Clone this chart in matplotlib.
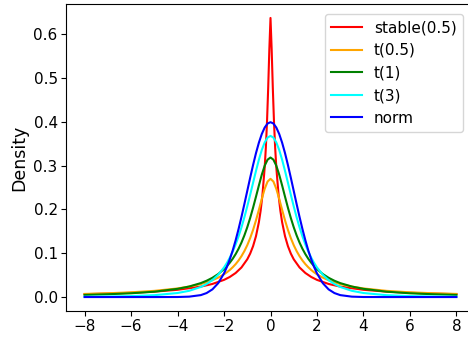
import matplotlib
matplotlib.use("Agg")
import matplotlib.pyplot as plt

# values
x_stable = [-8, -7, -6, -5, -4, -3, -2.5, -2, -1.75, -1.5, -1.25, -1, -0.875, -0.75,
            -0.625, -0.5, -0.425, -0.35, -0.25, -0.2, -0.15, -0.1, -0.05, 0,
            0.05, 0.1, 0.15, 0.2, 0.25, 0.35, 0.425, 0.5, 0.625, 0.75, 0.875, 1,
            1.25, 1.5, 1.75, 2, 2.5, 3, 4, 5, 6, 7, 8]
stable = [0.0066, 0.0079, 0.0097, 0.01235, 0.0165, 0.0238, 0.02985, 0.03915, 0.04587,
          0.05487, 0.06747, 0.08611, 0.09914, 0.11607, 0.13881, 0.17076, 0.19683,
          0.23082, 0.29564, 0.34112, 0.39987, 0.47621, 0.565, 0.63662,
          0.565, 0.47621, 0.39987, 0.34112, 0.29564, 0.23082, 0.19683, 0.17076,
          0.13881, 0.11607, 0.09914, 0.08611, 0.06747, 0.05487, 0.04587, 0.03915,
          0.02985, 0.0238, 0.0165, 0.01235, 0.0097, 0.0079, 0.0066]

x = [-8, -7, -6, -5, -4, -3.5, -3, -2.75, -2.5, -2.25, -2, -1.875, -1.75, -1.625,
     -1.5, -1.375, -1.25, -1.125, -1, -0.875, -0.75, -0.625, -0.5, -0.375, -0.25,
     -0.125, 0, 0.125, 0.25, 0.375, 0.5, 0.625, 0.75, 0.875, 1, 1.125, 1.25, 1.375,
     1.5, 1.625, 1.75, 1.875, 2, 2.25, 2.5, 2.75, 3, 3.5, 4, 5, 6, 7, 8]
t05 = [0.0071, 0.0086, 0.0108, 0.0141, 0.0196, 0.0238, 0.0296, 0.0335, 0.0383, 0.0443,
       0.0519, 0.0565, 0.0618, 0.0680, 0.0751, 0.0834, 0.0932, 0.1047, 0.1183,
       0.1344, 0.1532, 0.1749, 0.1990, 0.2239, 0.2469, 0.2635, 0.2697,
       0.2635, 0.2469, 0.2239, 0.1990, 0.1749, 0.1532, 0.1344, 0.1183, 0.1047,
       0.0932, 0.0834, 0.0751, 0.0680, 0.0618, 0.0565, 0.0519, 0.0443, 0.0383,
       0.0335, 0.0296, 0.0238, 0.0196, 0.0141, 0.0108, 0.0086, 0.0071]
t1 = [0.0049, 0.0064, 0.0086, 0.0122, 0.0187, 0.0240, 0.0318, 0.0372, 0.0439, 0.0525,
      0.0637, 0.0705, 0.0784, 0.0874, 0.0979, 0.1101, 0.1242, 0.1405, 0.1592,
      0.1803, 0.2037, 0.2289, 0.2546, 0.2791, 0.2996, 0.3134, 0.3183,
      0.3134, 0.2996, 0.2791, 0.2546, 0.2289, 0.2037, 0.1803, 0.1592, 0.1405,
      0.1242, 0.1101, 0.0979, 0.0874, 0.0784, 0.0705, 0.0637, 0.0525, 0.0439,
      0.0372, 0.0318, 0.0240, 0.0187, 0.0122, 0.0086, 0.0064, 0.0049]
t3 = [0.0007, 0.0012, 0.0022, 0.0042, 0.0092, 0.0142, 0.0230, 0.0297, 0.0387, 0.0509,
      0.0675, 0.0779, 0.0900, 0.1040, 0.1200, 0.1383, 0.1589, 0.1818, 0.2068,
      0.2333, 0.2607, 0.2877, 0.3132, 0.3354, 0.3527, 0.3638, 0.3676,
      0.3638, 0.3527, 0.3354, 0.3132, 0.2877, 0.2607, 0.2333, 0.2068, 0.1818,
      0.1589, 0.1383, 0.1200, 0.1040, 0.0900, 0.0779, 0.0675, 0.0509, 0.0387,
      0.0297, 0.0230, 0.0142, 0.0092, 0.0042, 0.0022, 0.0012, 0.0007]
norm = [0.0, 0.0, 0.0, 0.0, 0.0001, 0.0009, 0.0044, 0.0091, 0.0175, 0.0317,
        0.0540, 0.0688, 0.0863, 0.1065, 0.1295, 0.1550, 0.1826, 0.2119, 0.2420,
        0.2721, 0.3011, 0.3282, 0.3521, 0.3719, 0.3867, 0.3958, 0.3989,
        0.3958, 0.3867, 0.3719, 0.3521, 0.3282, 0.3011, 0.2721, 0.2420, 0.2119,
        0.1826, 0.1550, 0.1295, 0.1065, 0.0863, 0.0688, 0.0540, 0.0317, 0.0175,
        0.0091, 0.0044, 0.0009, 0.0001, 0.0, 0.0, 0.0, 0.0]

fig = plt.figure(figsize=(4.68, 3.37), dpi=100)
ax = fig.add_axes([66/468, 26/337, 409/468, 307/337])

ax.plot(x_stable, stable, color="red", label="stable(0.5)")
ax.plot(x, t05, color="orange", label="t(0.5)")
ax.plot(x, t1, color="green", label="t(1)")
ax.plot(x, t3, color="cyan", label="t(3)")
ax.plot(x, norm, color="blue", label="norm")

ax.set_xticks([-8, -6, -4, -2, 0, 2, 4, 6, 8])
ax.set_yticks([0.0, 0.1, 0.2, 0.3, 0.4, 0.5, 0.6])
ax.tick_params(labelsize=11, pad=2.5)
ax.set_ylabel("Density", fontsize=12.5)
ax.legend(loc="upper right", bbox_to_anchor=(0.970, 0.967), borderaxespad=0,
          fontsize=11)

fig.savefig("out.png", dpi=100)
